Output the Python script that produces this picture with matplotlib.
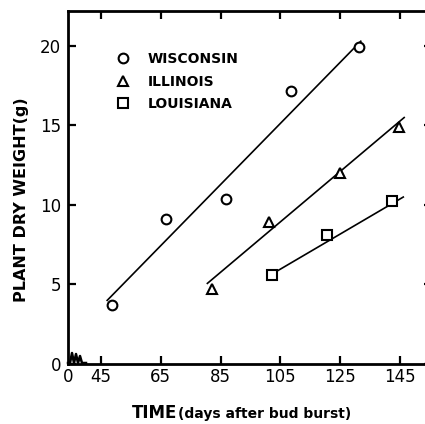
import matplotlib
matplotlib.use("Agg")
import matplotlib.pyplot as plt
from matplotlib.lines import Line2D

# ---- data ----
wis_x = [48.7, 66.8, 86.8, 108.4, 131.4]
wis_y = [3.7, 9.1, 10.4, 17.2, 19.95]
ill_x = [82.3, 101.3, 124.9, 144.7]
ill_y = [4.7, 8.9, 12.0, 14.9]
lou_x = [102.1, 120.7, 142.4]
lou_y = [5.6, 8.1, 10.25]

# fitted lines (endpoints)
wis_line_x = [47.1, 131.9]
wis_line_y = [4.0, 20.3]
ill_line_x = [80.6, 146.4]
ill_line_y = [5.07, 15.5]
lou_line_x = [102.6, 146.1]
lou_line_y = [5.7, 10.5]

xtick_pos = [34, 45, 65, 85, 105, 125, 145]
xtick_labels = ["0", "45", "65", "85", "105", "125", "145"]
ytick_pos = [0, 5, 10, 15, 20]
ytick_labels = ["0", "5", "10", "15", "20"]
labels = ["WISCONSIN", "ILLINOIS", "LOUISIANA"]

W, H = 425, 424
RIGHT_PX = 432
fig = plt.figure(figsize=(W / 100, H / 100), dpi=100)
ax = fig.add_axes([68 / W, 1 - 364 / H, (RIGHT_PX - 68) / W, (364 - 11) / H])
ax.set_xlim(34, 45 + (RIGHT_PX - 101) / 2.99)
ax.set_ylim(0, 22.2)

lw_line = 1.2
ms = 7
mew = 1.5
ax.plot(wis_line_x, wis_line_y, color="black", lw=lw_line, zorder=2)
ax.plot(ill_line_x, ill_line_y, color="black", lw=lw_line, zorder=2)
ax.plot(lou_line_x, lou_line_y, color="black", lw=lw_line, zorder=2)
h1, = ax.plot(wis_x, wis_y, "o", mfc="white", mec="black", ms=ms, mew=mew, ls="none", zorder=3)
h2, = ax.plot(ill_x, ill_y, "^", mfc="white", mec="black", ms=ms, mew=mew, ls="none", zorder=3)
h3, = ax.plot(lou_x, lou_y, "s", mfc="white", mec="black", ms=ms - 0.5, mew=mew, ls="none", zorder=3)

for s in ax.spines.values():
    s.set_linewidth(2.0)

ax.set_xticks(xtick_pos)
ax.set_xticklabels(xtick_labels, fontsize=12)
ax.set_yticks(ytick_pos)
ax.set_yticklabels(ytick_labels, fontsize=12)
ax.tick_params(axis="both", direction="in", length=6, width=1.6, pad=3,
               top=True, right=True)
ax.tick_params(axis="y", pad=5)
# hide the tick mark at the "0" position of the broken x axis
ax.xaxis.get_major_ticks()[0].tick1line.set_visible(False)
ax.xaxis.get_major_ticks()[0].tick2line.set_visible(False)

# axis break zigzag on bottom spine (figure pixel coordinates)
zz_px = [(68, 363), (70, 363), (72, 353), (74, 363), (76, 354), (78, 363), (80, 356), (82, 363), (86, 363)]
fig.add_artist(Line2D([p[0] / W for p in zz_px], [1 - p[1] / H for p in zz_px],
                      transform=fig.transFigure, color="black", lw=1.8))

leg = ax.legend([h1, h2, h3], labels, loc="upper left",
                bbox_to_anchor=(109 / W, 1 - 45 / H), bbox_transform=fig.transFigure,
                frameon=False, handlelength=1.0, handletextpad=1.3, labelspacing=0.62,
                borderpad=0, prop={"weight": "bold", "size": 10})

fig.text(22 / W, 1 - 200 / H, "PLANT DRY WEIGHT(g)", rotation=90, ha="center", va="center",
         fontsize=11.5, fontweight="bold")
fig.text(177 / W, 1 - 418 / H, "TIME", ha="right", va="baseline", fontsize=12, fontweight="bold")
fig.text(178 / W, 1 - 418 / H, "(days after bud burst)", ha="left", va="baseline",
         fontsize=10, fontweight="bold")

fig.savefig("out.png", dpi=100)
